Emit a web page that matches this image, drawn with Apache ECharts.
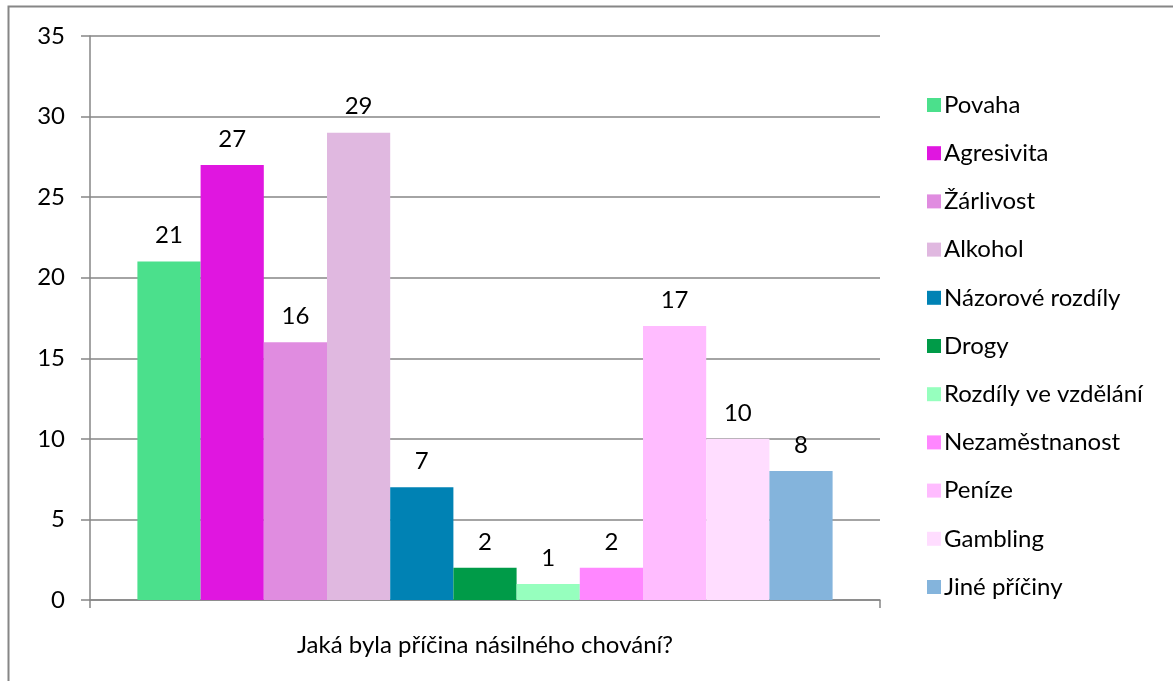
<!DOCTYPE html>
<html>
<head>
<meta charset="utf-8">
<script src="https://cdn.jsdelivr.net/npm/echarts@6/dist/echarts.min.js"></script>
<style>
  html, body { margin: 0; padding: 0; background: #fff; }
  #chart { width: 1173px; height: 681px; }
</style>
</head>
<body>
<div id="chart"></div>
<script>
// Single category, one bar per cause
const categories = ['Jaká byla příčina násilného chování?'];
const causeNames = ['Povaha', 'Agresivita', 'Žárlivost', 'Alkohol', 'Názorové rozdíly', 'Drogy',
  'Rozdíly ve vzdělání', 'Nezaměstnanost', 'Peníze', 'Gambling', 'Jiné příčiny'];
const causeValues = [21, 27, 16, 29, 7, 2, 1, 2, 17, 10, 8];
const causeColors = ['#4be08c', '#e016e0', '#e08ce0', '#e0b8e0', '#0082b4', '#009b48',
  '#96ffbe', '#ff87ff', '#ffbcff', '#ffddff', '#84b4dc'];
const yTicks = { min: 0, max: 35, interval: 5 };

const FONT = 'Lato';
const FONT_SIZE = 24;
const chart = echarts.init(document.getElementById('chart'), null, { renderer: 'canvas' });

const series = causeNames.map((name, i) => ({
  name: name,
  type: 'bar',
  data: [causeValues[i]],
  barGap: '0%',
  barCategoryGap: '12%',
  itemStyle: { color: causeColors[i] },
  label: {
    show: true,
    position: 'top',
    distance: 14,
    color: '#000',
    fontFamily: FONT,
    fontSize: FONT_SIZE
  },
  emphasis: { disabled: true }
}));

chart.setOption({
  animation: false,
  textStyle: { fontFamily: FONT },
  graphic: [{
    type: 'rect',
    shape: { x: 8.5, y: 6.5, width: 1200, height: 700 },
    style: { fill: 'none', stroke: '#868686', lineWidth: 2 },
    silent: true,
    z: -1
  }],
  grid: { left: 90, right: 293, top: 36, bottom: 81 },
  legend: {
    orient: 'vertical',
    left: 922,
    top: 88,
    itemWidth: 14,
    itemHeight: 14,
    itemGap: 24.2,
    icon: 'rect',
    textStyle: { fontFamily: FONT, fontSize: FONT_SIZE, color: '#000', padding: [0, 0, 0, -2] },
    data: causeNames
  },
  xAxis: {
    type: 'category',
    data: categories,
    axisLine: { lineStyle: { color: '#868686', width: 1.5 } },
    axisTick: { show: true, length: 8, lineStyle: { color: '#868686', width: 1.5 } },
    axisLabel: { color: '#000', fontFamily: FONT, fontSize: FONT_SIZE, margin: 33 }
  },
  yAxis: {
    type: 'value',
    min: yTicks.min,
    max: yTicks.max,
    interval: yTicks.interval,
    axisLine: { show: true, lineStyle: { color: '#868686', width: 1.5 } },
    axisTick: { show: true, length: 9, lineStyle: { color: '#868686', width: 1.5 } },
    splitLine: { lineStyle: { color: '#868686', width: 1.5 } },
    axisLabel: { color: '#000', fontFamily: FONT, fontSize: FONT_SIZE, margin: 25 }
  },
  series: series
});
</script>
</body>
</html>
